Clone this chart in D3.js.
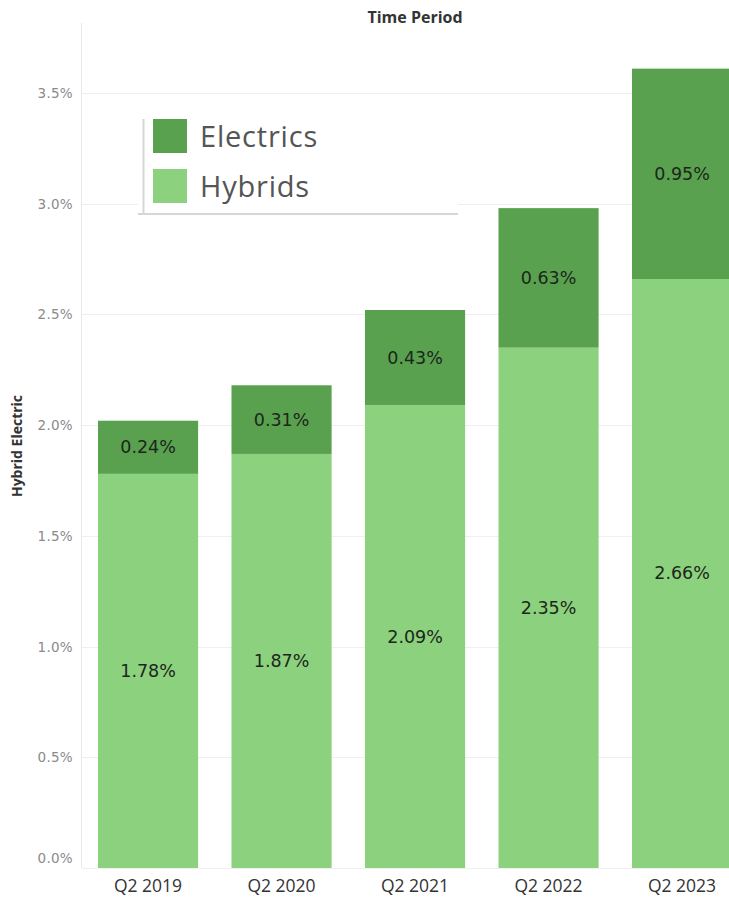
<!DOCTYPE html>
<html>
<head>
<meta charset="utf-8">
<script src="https://cdn.jsdelivr.net/npm/d3@7"></script>
<style>
  html, body { margin: 0; padding: 0; background: #fff; overflow: hidden; }
  svg { display: block; }
</style>
</head>
<body>
<div id="chart"></div>
<script>
// ---- data ----
const categories = ["Q2 2019", "Q2 2020", "Q2 2021", "Q2 2022", "Q2 2023"];
const hybrids = [1.78, 1.87, 2.09, 2.35, 2.66];
const electrics = [0.24, 0.31, 0.43, 0.63, 0.95];
const yTicks = [0, 0.5, 1.0, 1.5, 2.0, 2.5, 3.0, 3.5];
const seriesNames = ["Electrics", "Hybrids"];
const seriesColors = ["#59A14F", "#8CD17D"];

const W = 729, H = 898;
const svg = d3.select("#chart").append("svg").attr("width", W).attr("height", H);

const yBase = 868, yPerUnit = 221.43;
const y = d3.scaleLinear().domain([0, 3.8]).range([yBase, yBase - 3.8 * yPerUnit]);
const x = d3.scaleBand().domain(categories).range([81.3, 748.8]).paddingInner(0.25).paddingOuter(0.125);
const color = d3.scaleOrdinal().domain(seriesNames).range(seriesColors);

const table = categories.map((c, i) => ({ cat: c, Hybrids: hybrids[i], Electrics: electrics[i] }));
const stacked = d3.stack().keys(["Hybrids", "Electrics"])(table);

// gridlines
svg.append("g").selectAll("line").data(yTicks).join("line")
  .attr("x1", 82).attr("x2", W)
  .attr("y1", d => Math.round(y(d)) + 0.5).attr("y2", d => Math.round(y(d)) + 0.5)
  .attr("stroke", "#efefef").attr("stroke-width", 1);

// vertical axis line
svg.append("line").attr("x1", 81.5).attr("x2", 81.5).attr("y1", 23).attr("y2", yBase)
  .attr("stroke", "#eaeaea");

// y tick labels
svg.append("g").selectAll("text").data(yTicks).join("text")
  .attr("x", 73).attr("y", d => d === 0 ? y(d) - 5 : y(d) + 5)
  .attr("text-anchor", "end")
  .attr("font-family", "DejaVu Sans").attr("font-size", 13.5).attr("letter-spacing", 0.3)
  .attr("fill", "#8a8a8a")
  .text(d => d3.format(".1f")(d) + "%");

// bars
const layers = svg.append("g").selectAll("g").data(stacked).join("g")
  .attr("fill", d => color(d.key));
layers.selectAll("rect").data(d => d).join("rect")
  .attr("x", d => x(d.data.cat))
  .attr("width", x.bandwidth())
  .attr("y", d => y(d[1]))
  .attr("height", d => y(d[0]) - y(d[1]));

// value labels
const lab = svg.append("g");
stacked.forEach(layer => {
  lab.append("g").selectAll("text").data(layer).join("text")
    .attr("x", d => x(d.data.cat) + x.bandwidth() / 2)
    .attr("y", d => (y(d[0]) + y(d[1])) / 2 + 6)
    .attr("text-anchor", "middle")
    .attr("font-family", "DejaVu Sans").attr("font-size", 17.5)
    .attr("fill", "#1c261c")
    .text(d => d3.format(".2f")(d[1] - d[0]) + "%");
});

// x labels
svg.append("g").selectAll("text").data(categories).join("text")
  .attr("x", d => x(d) + x.bandwidth() / 2)
  .attr("y", 892)
  .attr("text-anchor", "middle")
  .attr("font-family", "Open Sans").attr("font-size", 17.5)
  .attr("fill", "#333")
  .text(d => d);

// title
svg.append("text").attr("x", 415).attr("y", 23).attr("text-anchor", "middle")
  .attr("font-family", "Open Sans").attr("font-weight", "bold").attr("font-size", 16)
  .attr("fill", "#333").text("Time Period");

// y axis title
svg.append("text").attr("transform", "translate(22,446) rotate(-90)")
  .attr("text-anchor", "middle")
  .attr("font-family", "Open Sans").attr("font-weight", "bold").attr("font-size", 14)
  .attr("fill", "#333").text("Hybrid Electric");

// legend
const lg = svg.append("g");
lg.append("rect").attr("x", 138).attr("y", 116).attr("width", 320).attr("height", 99).attr("fill", "#fff");
lg.append("line").attr("x1", 143.5).attr("x2", 143.5).attr("y1", 119).attr("y2", 215).attr("stroke", "#d6d6d6").attr("stroke-width", 2);
lg.append("line").attr("x1", 138).attr("x2", 458).attr("y1", 214).attr("y2", 214).attr("stroke", "#d6d6d6").attr("stroke-width", 2);
const li = lg.selectAll("g").data(seriesNames).join("g")
  .attr("transform", (d, i) => `translate(153,${119 + i * 50})`);
li.append("rect").attr("width", 34).attr("height", 34).attr("fill", d => color(d));
li.append("text").attr("x", 47).attr("y", 28)
  .attr("font-family", "Open Sans").attr("font-size", 29).attr("letter-spacing", 0.8)
  .attr("fill", "#555").text(d => d);
</script>
</body>
</html>
